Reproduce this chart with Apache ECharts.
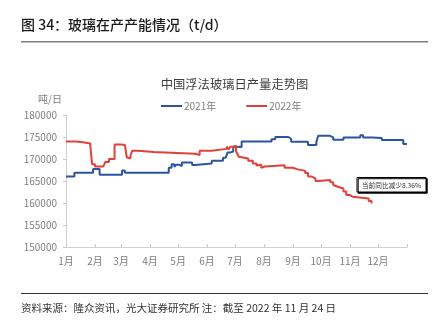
<!DOCTYPE html>
<html>
<head>
<meta charset="utf-8">
<script src="https://cdn.jsdelivr.net/npm/echarts@6/dist/echarts.min.js"></script>
<style>
html,body{margin:0;padding:0;background:#fff;}
#c{width:445px;height:328px;}
</style>
</head>
<body>
<div id="c"></div>
<script>
// ---- data (day of year index, t/d) ----
const monthLabels = ['1月','2月','3月','4月','5月','6月','7月','8月','9月','10月','11月','12月'];
const monthStartDays = [0,31,59,90,120,151,181,212,243,273,304,334,365];
const yTicks = [150000,155000,160000,165000,170000,175000,180000];
const seriesNames = ['2021年','2022年'];
const data2021 = [
  [0,166000],[9,166900],[29,167700],[36,166400],[60,167400],[63,166900],
  [110,168000],[113,168800],[116,168200],[118,168700],[121,168400],[124,169200],
  [135,168650],[138,169000],[156,169600],[168,170300],[171,170000],[173,171500],
  [176,171700],[179,172800],[182,172700],[188,174000],[220,174500],[224,175000],
  [238,174600],[241,173900],[259,173200],[268,173900],[270,175300],[282,174900],
  [286,174400],[297,174900],[315,175400],[318,174900],[328,174800],[338,174300],
  [361,173400],[365,173400]
];
const data2022 = [
  [0,174000],[11,173800],[18,173500],[26,173000],[28,168800],[31,168300],
  [40,168700],[42,169300],[46,170000],[52,173300],[59,173200],[63,172800],
  [65,170400],[66,170100],[69,170800],[71,171900],[77,171600],[94,171200],
  [138,170900],[143,171900],[156,172300],[172,172800],[174,172200],[176,172800],
  [179,173000],[182,171800],[183,171300],[185,170500],[187,170100],[195,169600],
  [200,169000],[204,168500],[206,168700],[209,168000],[211,168300],[213,168600],
  [234,168000],[238,167600],[240,168000],[243,167700],[247,167300],[256,166800],
  [259,166000],[263,165600],[267,165000],[270,165200],[283,164700],[286,164100],
  [288,163700],[291,163300],[297,162600],[300,161800],[304,161400],[307,161000],
  [324,160450],[327,159900]
];
const annotationText = '当前同比减少8.36%';

const categories = [];
for (let i = 0; i <= 365; i++) categories.push(String(i));

const chart = echarts.init(document.getElementById('c'), null, {renderer:'canvas'});
const FONT = '"Noto Sans CJK SC", "Noto Sans", sans-serif';
chart.setOption({
  animation: false,
  backgroundColor: '#fff',
  title: {
    text: '中国浮法玻璃日产量走势图',
    left: 229.5, top: 73, textAlign: 'center',
    textStyle: {fontSize: 12.3, fontWeight: 'normal', color: '#404040', fontFamily: FONT}
  },
  legend: {
    left: 156, top: 96, itemWidth: 21, itemHeight: 2, itemGap: 30,
    data: seriesNames.map(function(n){ return {name: n, icon: 'rect'}; }),
    textStyle: {fontSize: 10, color: '#7f7f7f', fontFamily: FONT, padding: [0,0,0,-3]}
  },
  grid: {left: 66, right: 38, top: 115, bottom: 81, containLabel: false},
  xAxis: {
    type: 'category', data: categories, boundaryGap: false,
    axisLine: {lineStyle: {color: '#d0d0d0', width: 1}},
    axisTick: {
      inside: true, length: 3, lineStyle: {color: '#c8c8c8'},
      interval: function(idx){ return monthStartDays.indexOf(idx) >= 0; }
    },
    axisLabel: {
      interval: function(idx){ const k = monthStartDays.indexOf(idx); return k >= 0 && k < 12; },
      formatter: function(v){ const k = monthStartDays.indexOf(Number(v)); return k >= 0 && k < 12 ? monthLabels[k] : ''; },
      color: '#7f7f7f', fontSize: 10, margin: 9, fontFamily: FONT
    },
    splitLine: {show: false}
  },
  yAxis: {
    type: 'value', min: yTicks[0], max: yTicks[yTicks.length-1], interval: 5000,
    name: '吨/日', nameLocation: 'end', nameGap: 11,
    nameTextStyle: {color: '#7f7f7f', fontSize: 10, align: 'right', padding: [0,4,0,0], fontFamily: FONT},
    axisLine: {show: true, lineStyle: {color: '#d0d0d0'}},
    axisTick: {show: true, length: 3, lineStyle: {color: '#c8c8c8'}},
    axisLabel: {color: '#7f7f7f', fontSize: 10, margin: 9, fontFamily: FONT,
      formatter: function(v){ return String(v); }},
    splitLine: {show: false}
  },
  series: [
    {name: seriesNames[0], type: 'line', step: 'end', data: data2021, symbol: 'none',
     lineStyle: {color: '#2c55a0', width: 2}, itemStyle: {color: '#2c55a0'}},
    {name: seriesNames[1], type: 'line', step: 'end', data: data2022, symbol: 'none',
     lineStyle: {color: '#e2403a', width: 2}, itemStyle: {color: '#e2403a'}}
  ],
  graphic: [
    {type: 'text', left: 21, top: 18, style: {text: '图 34：玻璃在产产能情况（t/d）', fontSize: 14, fontWeight: 500, fill: '#1a1a1a', fontFamily: FONT}},
    {type: 'line', shape: {x1: 21, y1: 41.7, x2: 428, y2: 41.7}, style: {stroke: '#808080', lineWidth: 1.5}},
    {type: 'line', shape: {x1: 21, y1: 293.5, x2: 428, y2: 293.5}, style: {stroke: '#333', lineWidth: 1}},
    {type: 'text', left: 21, top: 303, style: {text: '资料来源：隆众资讯，光大证券研究所 注：截至 2022 年 11 月 24 日', fontSize: 10.5, fill: '#333', fontFamily: FONT}},
    {type: 'rect', shape: {x: 357, y: 177.5, width: 69, height: 14.5},
     style: {fill: '#fff', stroke: '#000', lineWidth: 1, shadowColor: '#000', shadowOffsetX: 1.2, shadowOffsetY: 1.2, shadowBlur: 0}, z: 10},
    {type: 'text', x: 391.5, y: 185, z: 11, style: {text: annotationText, fontSize: 6.7, fill: '#333', align: 'center', verticalAlign: 'middle', fontFamily: FONT}}
  ]
});
</script>
</body>
</html>
